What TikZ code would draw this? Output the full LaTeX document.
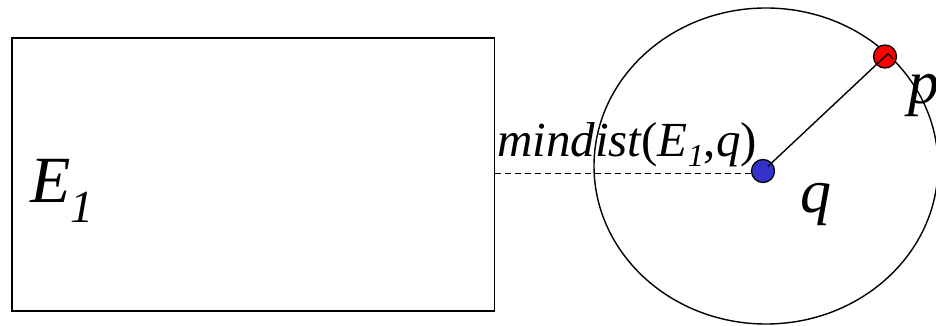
\documentclass[tikz,border=0pt]{standalone}
\usepackage{fontspec}
\setmainfont{Liberation Serif}
\usetikzlibrary{calc}
\begin{document}
\begin{tikzpicture}[x=1pt,y=-1pt,
  box/.style={draw=black,line width=1.8pt},
  ring/.style={draw=black,line width=1.4pt},
  dot/.style={circle,draw=black,line width=1.3pt,minimum size=23pt,inner sep=0pt},
  lbl/.style={inner sep=0pt,font=\itshape}]
\useasboundingbox (0,0) rectangle (936,326);
\draw[box] (12,38) rectangle (494.5,311);
\coordinate (boxr) at (494.5,173.5);
\draw[ring] (766,166) ellipse [x radius=172, y radius=158];
\node[dot,fill={rgb,255:red,51;green,51;blue,204}] (q) at (763,171) {};
\node[dot,fill=red] (p) at (885,56.5) {};
\draw[line width=1.4pt] ($(q.center)!0.04!(p.center)$) -- ($(q.center)!1.025!(p.center)$) coordinate (pe);
\draw[line width=1.4pt] (pe) -- ++(5,5.3);
\draw[dashed,dash pattern=on 6pt off 4pt,line width=1.4pt] (boxr) -- (q.west |- boxr);
\node[lbl,anchor=base west] (md) at (497,156) {\fontsize{49}{49}\selectfont mindist\upshape(\itshape E\raisebox{-10pt}{\fontsize{32}{32}\selectfont 1}\upshape,\itshape q\upshape)};
\node[lbl,anchor=base west] (e1) at (30,202) {\fontsize{66}{66}\selectfont E\raisebox{-20pt}{\fontsize{46}{46}\selectfont 1}};
\node[lbl,anchor=base west] (ql) at (800,212) {\fontsize{62}{62}\selectfont q};
\node[lbl,anchor=base west] (pl) at (908,103) {\fontsize{62}{62}\selectfont p};
\end{tikzpicture}
\end{document}
